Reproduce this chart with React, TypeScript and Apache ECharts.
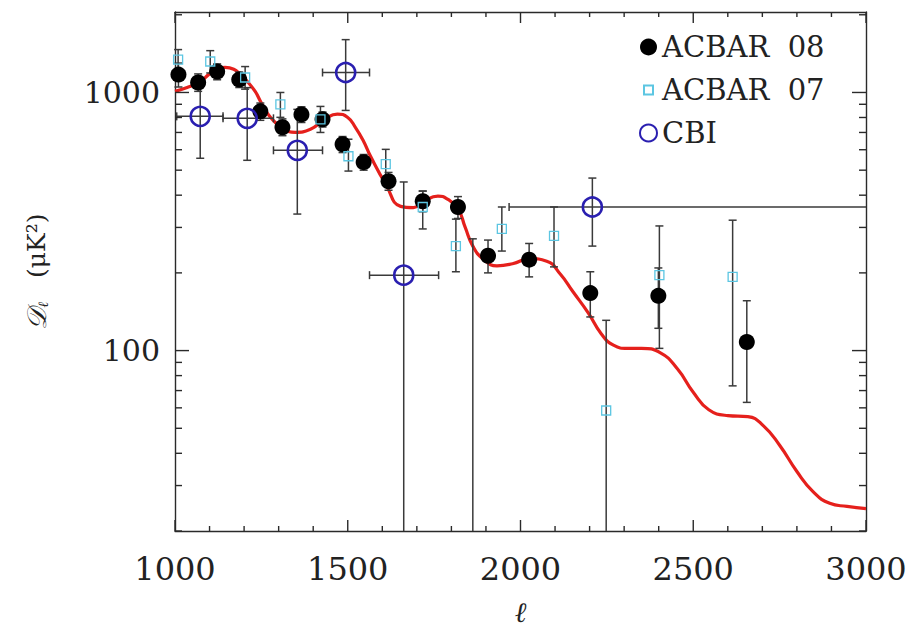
import React, { useEffect, useRef } from "react";
import * as echarts from "echarts";

// ---------- data ----------
const theoryL = [1000, 1035, 1073, 1100, 1122, 1145, 1170, 1189, 1210, 1232, 1250, 1270, 1305, 1348, 1392, 1435, 1470, 1500, 1522, 1545, 1566, 1610, 1653, 1690, 1720, 1761, 1790, 1819, 1840, 1862, 1891, 1932, 1977, 2027, 2076, 2115, 2152, 2196, 2234, 2269, 2310, 2350, 2405, 2454, 2500, 2545, 2600, 2658, 2704, 2750, 2800, 2846, 2895, 2945, 3000];
const theoryD = [1010, 1045, 1100, 1180, 1227, 1250, 1230, 1174, 1100, 1009, 910, 822, 739, 701, 720, 790, 825, 800, 733, 650, 566, 441, 362, 358, 378, 397, 385, 355, 300, 254, 227, 213, 217, 227, 222, 198, 169, 140, 116, 105, 102, 102, 98, 85, 69, 59, 56, 55.5, 51, 43, 34, 28.5, 25.6, 24.9, 24.4];

const acbar08L = [1010, 1067, 1122, 1186, 1247, 1311, 1366, 1427, 1485, 1546, 1618, 1717, 1819, 1906, 2025, 2202, 2399, 2655];
const acbar08D = [1173, 1093, 1205, 1122, 845, 733, 822, 787, 630, 537, 453, 379, 360, 233, 225, 167, 163, 108];
const acbar08Hi = [1300, 1180, 1290, 1200, 910, 790, 880, 840, 675, 575, 490, 415, 395, 268, 260, 202, 209, 156];
const acbar08Lo = [1050, 1010, 1120, 1045, 780, 680, 765, 735, 585, 500, 418, 345, 325, 200, 193, 135, 122, 63];

const acbar07L = [1009, 1102, 1203, 1305, 1421, 1502, 1610, 1717, 1813, 1946, 2097, 2248, 2402, 2614];
const acbar07D = [1341, 1318, 1143, 899, 787, 566, 528, 360, 254, 296, 278, 58.6, 196, 193];
const acbar07Hi = [1466, 1452, 1260, 1000, 883, 659, 602, 415, 323, 360, 360, 131, 304, 320];
const acbar07Lo = [1220, 1190, 1030, 801, 700, 496, 462, 296, 202, 243, 211, 1, 102, 73];

const cbiL = [1073, 1209, 1354, 1494, 1662, 1862, 2208];
const cbiD = [808, 794, 597, 1195, 196, 12, 360];
const cbiHi = [1060, 1044, 860, 1602, 450, 271, 466];
const cbiLo = [556, 546, 338, 852, 1, 1, 254];
const cbiLLo = [1005, 1139, 1285, 1427, 1563, 1762, 1967];
const cbiLHi = [1139, 1285, 1427, 1563, 1763, 1962, 3500];

const yMajorTicks = [100, 1000];
const yMinorTicks = [20, 30, 40, 50, 60, 70, 80, 90, 200, 300, 400, 500, 600, 700, 800, 900, 2000];
const xMajorTicks = [1000, 1500, 2000, 2500, 3000];
const xMinorTicks = [1100, 1200, 1300, 1400, 1600, 1700, 1800, 1900, 2100, 2200, 2300, 2400, 2600, 2700, 2800, 2900];

const FONT = "DejaVu Serif";
const AXIS = "#2a2a2a";
const BAR = "#3a3a3a";
const RED = "#e5201c";
const CYAN = "#5cc6e2";
const BLUE = "#2a1fb0";
const Y_MIN = 20;
const Y_MAX = 2050;
const X_MIN = 1000;
const X_MAX = 3000;

function clamp(v: number, a: number, b: number) {
  return Math.max(a, Math.min(b, v));
}

function errRender(params: any, api: any) {
  const cs = params.coordSys;
  const top = cs.y, bot = cs.y + cs.height, left = cs.x, right = cs.x + cs.width;
  const x = api.value(0);
  const y = api.value(1);
  const lo = api.value(2);
  const hi = api.value(3);
  const style = { stroke: BAR, lineWidth: 1.5 };
  const cap = 4;
  const children: any[] = [];
  const a = api.coord([x, hi]);
  const b = api.coord([x, lo]);
  const ya = clamp(a[1], top, bot);
  const yb = clamp(b[1], top, bot);
  if (ya !== yb) {
    children.push({ type: "line", shape: { x1: a[0], y1: ya, x2: b[0], y2: yb }, style });
  }
  if (a[1] >= top && a[1] <= bot) children.push({ type: "line", shape: { x1: a[0] - cap, y1: a[1], x2: a[0] + cap, y2: a[1] }, style });
  if (b[1] >= top && b[1] <= bot) children.push({ type: "line", shape: { x1: b[0] - cap, y1: b[1], x2: b[0] + cap, y2: b[1] }, style });
  const hasH = api.value(4) != null && !isNaN(api.value(4));
  if (hasH) {
    const c = api.coord([api.value(4), y]);
    const d = api.coord([api.value(5), y]);
    if (c[1] >= top && c[1] <= bot) {
      const xc = clamp(c[0], left, right);
      const xd = clamp(d[0], left, right);
      children.push({ type: "line", shape: { x1: xc, y1: c[1], x2: xd, y2: d[1] }, style });
      if (c[0] >= left && c[0] <= right) children.push({ type: "line", shape: { x1: c[0], y1: c[1] - cap, x2: c[0], y2: c[1] + cap }, style });
      if (d[0] >= left && d[0] <= right) children.push({ type: "line", shape: { x1: d[0], y1: d[1] - cap, x2: d[0], y2: d[1] + cap }, style });
    }
  }
  return { type: "group", children };
}

const lineStyle = { color: AXIS, width: 1.4 };

export default function App() {
  const ref = useRef<HTMLDivElement>(null);
  useEffect(() => {
    document.body.style.margin = "0";
    const chart = echarts.init(ref.current!, null, { renderer: "svg" });
    const xCommon = {
      type: "value",
      min: X_MIN,
      max: X_MAX,
      interval: 500,
      axisLine: { show: true, onZero: false, lineStyle },
      axisTick: { show: false },
      minorTick: { show: false },
      splitLine: { show: false },
      minorSplitLine: { show: false },
    };
    const option: any = {
      animation: false,
      backgroundColor: "#fff",
      grid: { left: 175, top: 12, width: 691, height: 522, show: false },
      legend: {
        orient: "vertical",
        left: 634,
        top: 27,
        itemWidth: 17,
        itemHeight: 17,
        itemGap: 13,
        selectedMode: false,
        textStyle: { fontFamily: FONT, fontSize: 29, color: "#222", lineHeight: 30 },
        data: [
          { name: "ACBAR  08", icon: "circle" },
          { name: "ACBAR  07", icon: "path://M0 0M17 17M4 4L13 4L13 13L4 13Z" },
          { name: "CBI", icon: "circle" },
        ],
      },
      xAxis: [
        {
          ...xCommon,
          position: "bottom",
          axisLabel: { fontFamily: FONT, fontSize: 32, color: "#222", margin: 22, formatter: (v: number) => String(v) },
          name: "ℓ",
          nameLocation: "middle",
          nameGap: 67,
          nameTextStyle: { fontFamily: FONT, fontSize: 28, fontStyle: "italic", color: "#222" },
        },
        { ...xCommon, position: "top", axisLabel: { show: false } },
      ],
      yAxis: [
        {
          type: "log",
          logBase: 10,
          min: Y_MIN,
          max: Y_MAX,
          position: "left",
          axisLine: { show: true, onZero: false, lineStyle },
          axisTick: { show: false },
          minorTick: { show: false },
          splitLine: { show: false },
          minorSplitLine: { show: false },
          axisLabel: {
            fontFamily: FONT,
            fontSize: 30,
            color: "#222",
            margin: 15,
            customValues: yMajorTicks,
            formatter: (v: number) => {
              const e = Math.log10(v);
              return Math.abs(e - Math.round(e)) < 1e-6 ? String(Math.round(v)) : "";
            },
          },
          name: "{d|𝒟}{l|ℓ}{u|   (μK²)}",
          nameLocation: "middle",
          nameRotate: 90,
          nameGap: 125,
          nameTextStyle: {
            fontFamily: FONT,
            fontSize: 25,
            color: "#222",
            rich: {
              d: { fontFamily: FONT, fontSize: 27, fontStyle: "italic", color: "#222" },
              l: { fontFamily: FONT, fontSize: 14, fontStyle: "italic", color: "#222", verticalAlign: "bottom" },
              u: { fontFamily: FONT, fontSize: 25, color: "#222" },
            },
          },
        },
        {
          type: "log",
          logBase: 10,
          min: Y_MIN,
          max: Y_MAX,
          position: "right",
          axisLine: { show: true, onZero: false, lineStyle },
          axisTick: { show: false },
          axisLabel: { show: false },
          minorTick: { show: false },
          splitLine: { show: false },
        },
      ],
      series: [
        {
          type: "line",
          data: theoryL.map((l, i) => [l, theoryD[i]]),
          smooth: 0.5,
          showSymbol: false,
          symbol: "none",
          lineStyle: { color: RED, width: 3.2 },
          z: 1,
        },
        {
          type: "custom",
          renderItem: errRender,
          encode: { x: 0, y: 1 },
          data: acbar08L.map((l, i) => [l, acbar08D[i], acbar08Lo[i], acbar08Hi[i]]),
          z: 2,
        },
        {
          type: "custom",
          renderItem: errRender,
          encode: { x: 0, y: 1 },
          data: acbar07L.map((l, i) => [l, acbar07D[i], acbar07Lo[i], acbar07Hi[i]]),
          z: 2,
        },
        {
          type: "custom",
          renderItem: errRender,
          encode: { x: 0, y: 1 },
          data: cbiL.map((l, i) => [l, cbiD[i], cbiLo[i], cbiHi[i], cbiLLo[i], cbiLHi[i]]),
          z: 2,
        },
        {
          name: "ACBAR  08",
          type: "scatter",
          data: acbar08L.map((l, i) => [l, acbar08D[i]]),
          symbol: "circle",
          symbolSize: 16,
          itemStyle: { color: "#000", opacity: 1 },
          z: 3,
        },
        {
          name: "ACBAR  07",
          type: "scatter",
          data: acbar07L.map((l, i) => [l, acbar07D[i]]),
          symbol: "rect",
          symbolSize: 9,
          itemStyle: { color: "rgba(0,0,0,0)", borderColor: CYAN, borderWidth: 1.3, opacity: 1 },
          z: 4,
        },
        {
          name: "CBI",
          type: "scatter",
          data: cbiL.map((l, i) => [l, cbiD[i]]),
          symbol: "circle",
          symbolSize: 19,
          itemStyle: { color: "rgba(0,0,0,0)", borderColor: BLUE, borderWidth: 2.6, opacity: 1 },
          z: 4,
        },
      ],
    };
    chart.setOption(option);

    // axis ticks on all four sides, positioned through the chart's own scales
    const toPx = (l: number, v: number) => chart.convertToPixel({ xAxisIndex: 0, yAxisIndex: 0 }, [l, v]) as number[];
    const tickStyle = { stroke: AXIS, lineWidth: 1.4 };
    const ticks: any[] = [];
    const yTicks = [...yMajorTicks.map((v) => [v, 14]), ...yMinorTicks.map((v) => [v, 7])];
    yTicks.forEach(([v, len]) => {
      const pl = toPx(X_MIN, v);
      const pr = toPx(X_MAX, v);
      ticks.push({ type: "line", silent: true, z: 100, shape: { x1: pl[0], y1: pl[1], x2: pl[0] + len, y2: pl[1] }, style: tickStyle });
      ticks.push({ type: "line", silent: true, z: 100, shape: { x1: pr[0], y1: pr[1], x2: pr[0] - len, y2: pr[1] }, style: tickStyle });
    });
    const xTicks = [...xMajorTicks.map((l) => [l, 11]), ...xMinorTicks.map((l) => [l, 5])];
    xTicks.forEach(([l, len]) => {
      const pb = toPx(l, Y_MIN);
      const pt = toPx(l, Y_MAX);
      ticks.push({ type: "line", silent: true, z: 100, shape: { x1: pb[0], y1: pb[1], x2: pb[0], y2: pb[1] - len }, style: tickStyle });
      ticks.push({ type: "line", silent: true, z: 100, shape: { x1: pt[0], y1: pt[1], x2: pt[0], y2: pt[1] + len }, style: tickStyle });
    });
    chart.setOption({ graphic: { elements: ticks } });

    return () => chart.dispose();
  }, []);
  return <div ref={ref} style={{ position: "fixed", left: 0, top: 0, width: 913, height: 631 }} />;
}
